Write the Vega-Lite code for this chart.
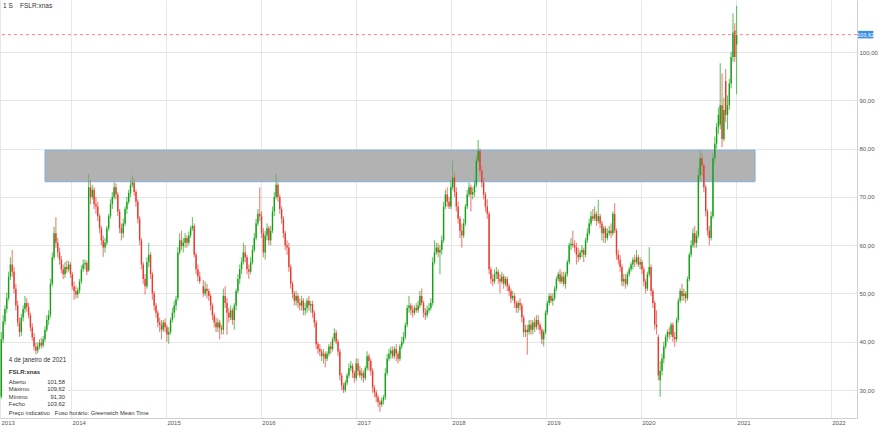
{
"$schema":"https://vega.github.io/schema/vega-lite/v6.json",
"width":857,"height":418,
"autosize":{"type":"none"},
"padding":{"left":0,"top":0,"right":23,"bottom":15},
"background":"white",
"config":{"view":{"stroke":null},
"locale":{"number":{"decimal":",","thousands":".","grouping":[3],"currency":["","€"]}},
"axis":{"labelFont":"Liberation Sans","labelFontSize":6,"labelColor":"#555555","gridColor":"#e6e6e6","gridWidth":1,"domainColor":"#d0d0d0","ticks":false},
"text":{"font":"Liberation Sans"}},
"datasets":{"fslr":[
{"d":"2013-04-08","o":28.6,"h":42,"l":28.2,"c":40.5},
{"d":"2013-04-15","o":40.5,"h":45.5,"l":39.8,"c":44.2},
{"d":"2013-04-22","o":44.2,"h":47.5,"l":43.5,"c":46.8},
{"d":"2013-04-29","o":46.8,"h":50.2,"l":46,"c":49},
{"d":"2013-05-06","o":49,"h":54.5,"l":48.5,"c":53.5},
{"d":"2013-05-13","o":53.5,"h":57.5,"l":52.8,"c":56},
{"d":"2013-05-20","o":56,"h":59,"l":53.5,"c":54.5},
{"d":"2013-05-27","o":54.5,"h":55.5,"l":50,"c":51},
{"d":"2013-06-03","o":51,"h":52,"l":46.5,"c":47.5},
{"d":"2013-06-10","o":47.5,"h":48.5,"l":43.2,"c":44},
{"d":"2013-06-17","o":44,"h":45,"l":41,"c":42},
{"d":"2013-06-24","o":42,"h":45.8,"l":41.2,"c":45},
{"d":"2013-07-01","o":45,"h":47.5,"l":44.2,"c":46.8},
{"d":"2013-07-08","o":46.8,"h":49.5,"l":46,"c":48},
{"d":"2013-07-15","o":48,"h":49,"l":46.2,"c":47.2},
{"d":"2013-07-22","o":47.2,"h":48,"l":44.8,"c":45.5},
{"d":"2013-07-29","o":45.5,"h":46,"l":42.2,"c":43},
{"d":"2013-08-05","o":43,"h":43.8,"l":40.2,"c":41},
{"d":"2013-08-12","o":41,"h":41.8,"l":38.2,"c":39},
{"d":"2013-08-19","o":39,"h":39.8,"l":37.4,"c":38.2},
{"d":"2013-08-26","o":38.2,"h":39.8,"l":37.6,"c":39},
{"d":"2013-09-02","o":39,"h":40.5,"l":38.5,"c":39.8},
{"d":"2013-09-09","o":39.8,"h":40.8,"l":38.6,"c":39.2},
{"d":"2013-09-16","o":39.2,"h":41.2,"l":38.8,"c":40.5},
{"d":"2013-09-23","o":40.5,"h":43.2,"l":40,"c":42.5},
{"d":"2013-09-30","o":42.5,"h":45.5,"l":42,"c":44.5},
{"d":"2013-10-07","o":44.5,"h":46.5,"l":43.5,"c":45.5},
{"d":"2013-10-14","o":45.5,"h":53,"l":45,"c":52},
{"d":"2013-10-21","o":52,"h":58.5,"l":51.5,"c":57.5},
{"d":"2013-10-28","o":57.5,"h":63.8,"l":57,"c":62.5},
{"d":"2013-11-04","o":62.5,"h":65.8,"l":59.5,"c":60.5},
{"d":"2013-11-11","o":60.5,"h":61.5,"l":57.5,"c":58.5},
{"d":"2013-11-18","o":58.5,"h":59.5,"l":56,"c":57},
{"d":"2013-11-25","o":57,"h":57.8,"l":54.2,"c":55},
{"d":"2013-12-02","o":55,"h":56,"l":53,"c":54},
{"d":"2013-12-09","o":54,"h":56.5,"l":53.2,"c":55.5},
{"d":"2013-12-16","o":55.5,"h":56.8,"l":54.2,"c":55},
{"d":"2013-12-23","o":55,"h":56.8,"l":54.5,"c":56},
{"d":"2013-12-30","o":56,"h":56.5,"l":53.2,"c":54},
{"d":"2014-01-06","o":54,"h":54.5,"l":50.8,"c":51.5},
{"d":"2014-01-13","o":51.5,"h":52.5,"l":48.7,"c":50.5},
{"d":"2014-01-20","o":50.5,"h":51.5,"l":49,"c":49.8},
{"d":"2014-01-27","o":49.8,"h":51.2,"l":49,"c":50.6},
{"d":"2014-02-03","o":50.6,"h":53,"l":50,"c":52.5},
{"d":"2014-02-10","o":52.5,"h":55.8,"l":52,"c":55},
{"d":"2014-02-17","o":55,"h":57,"l":54.5,"c":56},
{"d":"2014-02-24","o":56,"h":57,"l":55,"c":56.3},
{"d":"2014-03-03","o":56.3,"h":56.8,"l":53.8,"c":54.5},
{"d":"2014-03-10","o":54.8,"h":74.8,"l":54.5,"c":72},
{"d":"2014-03-17","o":72,"h":73.5,"l":68.5,"c":70},
{"d":"2014-03-24","o":70,"h":72.5,"l":69.5,"c":71.5},
{"d":"2014-03-31","o":71.5,"h":72,"l":67.5,"c":68.5},
{"d":"2014-04-07","o":68.5,"h":70,"l":66.5,"c":68},
{"d":"2014-04-14","o":68,"h":69,"l":65,"c":66},
{"d":"2014-04-21","o":66,"h":66.5,"l":62.5,"c":63.5},
{"d":"2014-04-28","o":63.5,"h":64,"l":60,"c":61},
{"d":"2014-05-05","o":61,"h":62,"l":57.6,"c":59.5},
{"d":"2014-05-12","o":59.5,"h":61.5,"l":58.5,"c":60.5},
{"d":"2014-05-19","o":60.5,"h":64,"l":60,"c":63.5},
{"d":"2014-05-26","o":63.5,"h":66.5,"l":63,"c":66},
{"d":"2014-06-02","o":66,"h":69.5,"l":65.5,"c":68.5},
{"d":"2014-06-09","o":68.5,"h":71,"l":67.5,"c":70},
{"d":"2014-06-16","o":70,"h":73,"l":69.5,"c":72},
{"d":"2014-06-23","o":72,"h":72.8,"l":69.5,"c":70.5},
{"d":"2014-06-30","o":70.5,"h":71,"l":66,"c":67},
{"d":"2014-07-07","o":67,"h":67.5,"l":62.5,"c":63.5},
{"d":"2014-07-14","o":63.5,"h":64.5,"l":61,"c":62.5},
{"d":"2014-07-21","o":62.5,"h":65.5,"l":61.5,"c":64.5},
{"d":"2014-07-28","o":64.5,"h":68,"l":64,"c":67.5},
{"d":"2014-08-04","o":67.5,"h":70,"l":66.5,"c":69},
{"d":"2014-08-11","o":69,"h":71.5,"l":68.5,"c":70.8},
{"d":"2014-08-18","o":70.8,"h":73.5,"l":70,"c":72.5},
{"d":"2014-08-25","o":72.5,"h":74.5,"l":72,"c":73},
{"d":"2014-09-01","o":73,"h":73.8,"l":70.2,"c":71},
{"d":"2014-09-08","o":71,"h":71.5,"l":68,"c":69},
{"d":"2014-09-15","o":69,"h":69.5,"l":64.5,"c":65.5},
{"d":"2014-09-22","o":65.5,"h":66,"l":60,"c":61},
{"d":"2014-09-29","o":61,"h":61.5,"l":55,"c":56},
{"d":"2014-10-06","o":56,"h":56.5,"l":52,"c":53},
{"d":"2014-10-13","o":53,"h":54,"l":49.8,"c":51.5},
{"d":"2014-10-20","o":51.5,"h":57.5,"l":51,"c":56.5},
{"d":"2014-10-27","o":56.5,"h":60.5,"l":55.5,"c":58},
{"d":"2014-11-03","o":58,"h":58.5,"l":53,"c":54},
{"d":"2014-11-10","o":54,"h":54.5,"l":48.7,"c":50},
{"d":"2014-11-17","o":50,"h":50.5,"l":46.5,"c":47.5},
{"d":"2014-11-24","o":47.5,"h":48,"l":45,"c":46},
{"d":"2014-12-01","o":46,"h":46.5,"l":43,"c":44},
{"d":"2014-12-08","o":44,"h":45,"l":42,"c":43.5},
{"d":"2014-12-15","o":43.5,"h":44.5,"l":40.5,"c":42.5},
{"d":"2014-12-22","o":42.5,"h":44.5,"l":42,"c":44},
{"d":"2014-12-29","o":44,"h":44.8,"l":42,"c":43},
{"d":"2015-01-05","o":43,"h":43.5,"l":40,"c":41.5},
{"d":"2015-01-12","o":41.5,"h":43,"l":39.6,"c":42},
{"d":"2015-01-19","o":42,"h":45,"l":41.5,"c":44.5},
{"d":"2015-01-26","o":44.5,"h":47,"l":44,"c":46},
{"d":"2015-02-02","o":46,"h":48.5,"l":45,"c":47.5},
{"d":"2015-02-09","o":47.5,"h":49.5,"l":46.5,"c":48.8},
{"d":"2015-02-16","o":49,"h":59.6,"l":48.5,"c":58.5},
{"d":"2015-02-23","o":58.5,"h":62.5,"l":58,"c":61},
{"d":"2015-03-02","o":61,"h":63,"l":59,"c":59.8},
{"d":"2015-03-09","o":59.8,"h":61.5,"l":58.5,"c":60.5},
{"d":"2015-03-16","o":60.5,"h":62.5,"l":59.5,"c":61.5},
{"d":"2015-03-23","o":61.5,"h":62,"l":59.5,"c":60.5},
{"d":"2015-03-30","o":60.5,"h":62.8,"l":60,"c":62},
{"d":"2015-04-06","o":62,"h":64,"l":61.5,"c":63.5},
{"d":"2015-04-13","o":63.5,"h":65.8,"l":63,"c":64},
{"d":"2015-04-20","o":64,"h":64.5,"l":57.5,"c":58},
{"d":"2015-04-27","o":58,"h":58.5,"l":54,"c":55},
{"d":"2015-05-04","o":55,"h":56,"l":52.5,"c":53.5},
{"d":"2015-05-11","o":53.5,"h":54.5,"l":52,"c":52.5},
{"d":"2015-05-25","o":51.5,"h":52.8,"l":49.3,"c":50},
{"d":"2015-06-01","o":50,"h":52.5,"l":49.5,"c":51},
{"d":"2015-06-08","o":51,"h":52,"l":49,"c":50.5},
{"d":"2015-06-15","o":50.5,"h":51,"l":48.5,"c":49.5},
{"d":"2015-06-22","o":49.5,"h":50,"l":46.5,"c":47.5},
{"d":"2015-06-29","o":47.5,"h":48,"l":44.5,"c":45.5},
{"d":"2015-07-06","o":45.5,"h":46,"l":43,"c":44},
{"d":"2015-07-13","o":44,"h":45,"l":42,"c":43},
{"d":"2015-07-20","o":43,"h":44.8,"l":42,"c":44},
{"d":"2015-07-27","o":44,"h":44.5,"l":40.5,"c":42.8},
{"d":"2015-08-03","o":42.8,"h":43.5,"l":41.5,"c":42.5},
{"d":"2015-08-10","o":42.5,"h":51,"l":41.5,"c":49.5},
{"d":"2015-08-17","o":49.5,"h":51.5,"l":47,"c":48},
{"d":"2015-08-24","o":48,"h":49,"l":41.5,"c":46},
{"d":"2015-08-31","o":46,"h":47,"l":44,"c":45},
{"d":"2015-09-07","o":45,"h":47.5,"l":44.5,"c":46.5},
{"d":"2015-09-14","o":46.5,"h":47,"l":43.5,"c":44.5},
{"d":"2015-09-21","o":44.5,"h":48,"l":42.5,"c":47.5},
{"d":"2015-09-28","o":47.5,"h":51,"l":46.5,"c":50.5},
{"d":"2015-10-05","o":50.5,"h":54,"l":50,"c":53},
{"d":"2015-10-12","o":53,"h":56,"l":52,"c":55},
{"d":"2015-10-19","o":55,"h":57.5,"l":54,"c":56.5},
{"d":"2015-10-26","o":56.5,"h":60.5,"l":56,"c":58.5},
{"d":"2015-11-02","o":58.5,"h":60,"l":56.5,"c":57.5},
{"d":"2015-11-09","o":57.5,"h":58,"l":54,"c":55},
{"d":"2015-11-16","o":55,"h":56,"l":53,"c":54.5},
{"d":"2015-11-23","o":54.5,"h":57.5,"l":54,"c":56.5},
{"d":"2015-11-30","o":56.5,"h":60,"l":56,"c":59},
{"d":"2015-12-07","o":59,"h":62.5,"l":58.5,"c":61.5},
{"d":"2015-12-14","o":61.5,"h":65.5,"l":61,"c":64.5},
{"d":"2015-12-21","o":64.5,"h":67.5,"l":64,"c":66.5},
{"d":"2015-12-28","o":66.5,"h":72,"l":65,"c":66},
{"d":"2016-01-04","o":66,"h":67,"l":61.5,"c":62.5},
{"d":"2016-01-11","o":62.5,"h":63.5,"l":57.5,"c":58.5},
{"d":"2016-01-18","o":58.5,"h":63,"l":57,"c":62},
{"d":"2016-01-25","o":62,"h":64.5,"l":61,"c":63.5},
{"d":"2016-02-01","o":63.5,"h":64,"l":60,"c":61},
{"d":"2016-02-08","o":61,"h":64,"l":60,"c":63},
{"d":"2016-02-15","o":63,"h":68,"l":62.5,"c":67},
{"d":"2016-02-22","o":67,"h":71,"l":66,"c":70},
{"d":"2016-02-29","o":70,"h":74.8,"l":69.5,"c":72.5},
{"d":"2016-03-07","o":72.5,"h":73,"l":69,"c":70},
{"d":"2016-03-14","o":70,"h":70.5,"l":66.5,"c":67.5},
{"d":"2016-03-21","o":67.5,"h":68,"l":64.5,"c":65.5},
{"d":"2016-03-28","o":65.5,"h":66,"l":61.5,"c":62.5},
{"d":"2016-04-04","o":62.5,"h":63,"l":59,"c":60},
{"d":"2016-04-11","o":60,"h":61,"l":58,"c":59.5},
{"d":"2016-04-18","o":59.5,"h":60.5,"l":54.5,"c":55.5},
{"d":"2016-04-25","o":55.5,"h":56,"l":51,"c":52},
{"d":"2016-05-02","o":52,"h":52.5,"l":49,"c":50},
{"d":"2016-05-09","o":50,"h":50.5,"l":47.5,"c":48.5},
{"d":"2016-05-16","o":48.5,"h":50.5,"l":47.5,"c":49.5},
{"d":"2016-05-23","o":49.5,"h":50,"l":47,"c":48},
{"d":"2016-05-30","o":48,"h":49,"l":46.5,"c":47.5},
{"d":"2016-06-06","o":47.5,"h":49.5,"l":46.5,"c":48.5},
{"d":"2016-06-13","o":48.5,"h":49,"l":45.5,"c":46.5},
{"d":"2016-06-20","o":46.5,"h":48,"l":45.5,"c":47},
{"d":"2016-06-27","o":47,"h":49,"l":46,"c":48.5},
{"d":"2016-07-04","o":48.5,"h":49.5,"l":46.5,"c":47.5},
{"d":"2016-07-11","o":47.5,"h":48.5,"l":46,"c":47.8},
{"d":"2016-07-18","o":47.8,"h":48.5,"l":45,"c":46},
{"d":"2016-07-25","o":46,"h":46.5,"l":43,"c":44},
{"d":"2016-08-01","o":44,"h":44.5,"l":38.5,"c":39.5},
{"d":"2016-08-08","o":39.5,"h":40,"l":37.5,"c":38.5},
{"d":"2016-08-15","o":38.5,"h":39.5,"l":37,"c":38},
{"d":"2016-08-22","o":38,"h":38.5,"l":36,"c":37},
{"d":"2016-08-29","o":37,"h":38.5,"l":35.5,"c":37.5},
{"d":"2016-09-05","o":37.5,"h":38,"l":34.7,"c":36.5},
{"d":"2016-09-12","o":36.5,"h":38,"l":36,"c":37.5},
{"d":"2016-09-19","o":37.5,"h":39.5,"l":37,"c":39},
{"d":"2016-09-26","o":39,"h":40,"l":37.5,"c":38.5},
{"d":"2016-10-03","o":38.5,"h":41,"l":38,"c":40.5},
{"d":"2016-10-10","o":40.5,"h":42.8,"l":40,"c":41.8},
{"d":"2016-10-17","o":41.8,"h":42.4,"l":39.5,"c":40},
{"d":"2016-10-24","o":40,"h":40.5,"l":37,"c":38},
{"d":"2016-10-31","o":38,"h":38.5,"l":32,"c":33},
{"d":"2016-11-07","o":33,"h":33.5,"l":30,"c":31},
{"d":"2016-11-14","o":31,"h":31.5,"l":29.4,"c":30},
{"d":"2016-11-21","o":30,"h":32,"l":29.5,"c":31.5},
{"d":"2016-11-28","o":31.5,"h":33.5,"l":31,"c":33},
{"d":"2016-12-05","o":33,"h":35.5,"l":32.5,"c":34.5},
{"d":"2016-12-12","o":34.5,"h":36,"l":34,"c":35},
{"d":"2016-12-19","o":35,"h":35.5,"l":32.5,"c":33.5},
{"d":"2016-12-26","o":33.5,"h":34,"l":31.5,"c":32.5},
{"d":"2017-01-02","o":32.5,"h":36.5,"l":32,"c":35.5},
{"d":"2017-01-09","o":35.5,"h":36.5,"l":33,"c":34},
{"d":"2017-01-16","o":34,"h":35,"l":32.5,"c":33},
{"d":"2017-01-23","o":33,"h":34.5,"l":32,"c":33.5},
{"d":"2017-01-30","o":33.5,"h":34,"l":31.5,"c":32.5},
{"d":"2017-02-06","o":32.5,"h":35,"l":32,"c":34.5},
{"d":"2017-02-13","o":34.5,"h":38,"l":34,"c":37},
{"d":"2017-02-20","o":37,"h":37.5,"l":34,"c":36},
{"d":"2017-02-27","o":36,"h":36.5,"l":33,"c":34},
{"d":"2017-03-06","o":34,"h":34.5,"l":29.4,"c":30.5},
{"d":"2017-03-13","o":30.5,"h":31,"l":28.5,"c":29.5},
{"d":"2017-03-20","o":29.5,"h":30,"l":27.5,"c":28.5},
{"d":"2017-03-27","o":28.5,"h":29,"l":26.5,"c":27.5},
{"d":"2017-04-03","o":27.5,"h":28,"l":25.5,"c":27},
{"d":"2017-04-10","o":27,"h":28.5,"l":26.5,"c":27.8},
{"d":"2017-04-17","o":27.8,"h":29,"l":27,"c":28.5},
{"d":"2017-04-24","o":28.5,"h":34.5,"l":28,"c":33.5},
{"d":"2017-05-01","o":33.5,"h":37.5,"l":33,"c":36.5},
{"d":"2017-05-08","o":36.5,"h":38.5,"l":36,"c":37.5},
{"d":"2017-05-15","o":37.5,"h":39,"l":36.5,"c":38.2},
{"d":"2017-05-22","o":38.2,"h":39,"l":36.5,"c":37},
{"d":"2017-05-29","o":37,"h":39,"l":36.5,"c":38.5},
{"d":"2017-06-05","o":38.5,"h":39.5,"l":36,"c":37.5},
{"d":"2017-06-12","o":37.5,"h":38,"l":35.5,"c":36.5},
{"d":"2017-06-19","o":36.5,"h":39.5,"l":36,"c":39},
{"d":"2017-06-26","o":39,"h":41,"l":38.5,"c":40},
{"d":"2017-07-03","o":40,"h":42,"l":39.5,"c":41},
{"d":"2017-07-10","o":41,"h":44,"l":40.5,"c":43.5},
{"d":"2017-07-17","o":43.5,"h":47.6,"l":43,"c":47},
{"d":"2017-07-24","o":47,"h":49.5,"l":46,"c":47.5},
{"d":"2017-07-31","o":47.5,"h":48,"l":45.5,"c":46.5},
{"d":"2017-08-07","o":46.5,"h":47.5,"l":45,"c":46},
{"d":"2017-08-14","o":46,"h":47.5,"l":45.5,"c":47},
{"d":"2017-08-21","o":47,"h":48,"l":46,"c":46.5},
{"d":"2017-08-28","o":46.5,"h":48.5,"l":46,"c":47.5},
{"d":"2017-09-04","o":47.5,"h":50.5,"l":47,"c":49.5},
{"d":"2017-09-11","o":49.5,"h":51,"l":47.5,"c":48},
{"d":"2017-09-18","o":48,"h":48.5,"l":45,"c":46},
{"d":"2017-09-25","o":46,"h":47,"l":44.5,"c":45.5},
{"d":"2017-10-02","o":45.5,"h":47.5,"l":45,"c":46.5},
{"d":"2017-10-09","o":46.5,"h":48,"l":46,"c":47},
{"d":"2017-10-16","o":47,"h":49,"l":46.5,"c":48},
{"d":"2017-10-23","o":48,"h":57.5,"l":47.5,"c":56.5},
{"d":"2017-10-30","o":56.5,"h":61,"l":56,"c":58.5},
{"d":"2017-11-06","o":58.5,"h":60.5,"l":58,"c":59.5},
{"d":"2017-11-13","o":59.5,"h":60.5,"l":57.5,"c":58.5},
{"d":"2017-11-20","o":58.5,"h":60,"l":54,"c":59},
{"d":"2017-11-27","o":59,"h":62,"l":58,"c":61},
{"d":"2017-12-04","o":61,"h":69,"l":60.5,"c":68},
{"d":"2017-12-11","o":68,"h":71.5,"l":67.5,"c":70.5},
{"d":"2017-12-18","o":70.5,"h":72,"l":68,"c":69},
{"d":"2017-12-25","o":69,"h":70,"l":67.5,"c":68},
{"d":"2018-01-01","o":68,"h":73.5,"l":67.5,"c":72},
{"d":"2018-01-08","o":72,"h":77.5,"l":71.5,"c":74},
{"d":"2018-01-15","o":74,"h":75,"l":70,"c":71},
{"d":"2018-01-22","o":71,"h":72,"l":67,"c":68},
{"d":"2018-01-29","o":68,"h":69,"l":64.5,"c":65.5},
{"d":"2018-02-05","o":65.5,"h":66,"l":61.5,"c":63},
{"d":"2018-02-12","o":63,"h":64.5,"l":59.5,"c":62},
{"d":"2018-02-19","o":62,"h":65.5,"l":61.5,"c":64.5},
{"d":"2018-02-26","o":64.5,"h":68.5,"l":64,"c":68},
{"d":"2018-03-05","o":68,"h":71.5,"l":67.5,"c":70.5},
{"d":"2018-03-12","o":70.5,"h":73,"l":70,"c":72},
{"d":"2018-03-19","o":72,"h":72.5,"l":67,"c":70.5},
{"d":"2018-03-26","o":70.5,"h":72,"l":69.5,"c":71},
{"d":"2018-04-02","o":71,"h":73.5,"l":70,"c":72.5},
{"d":"2018-04-09","o":72.5,"h":78.5,"l":72,"c":77.5},
{"d":"2018-04-16","o":77.5,"h":81.8,"l":77,"c":79.5},
{"d":"2018-04-23","o":79.5,"h":80,"l":74.5,"c":75.5},
{"d":"2018-04-30","o":75.5,"h":76.5,"l":72,"c":73},
{"d":"2018-05-07","o":73,"h":74,"l":69.5,"c":70.5},
{"d":"2018-05-14","o":70.5,"h":71,"l":67,"c":68},
{"d":"2018-05-21","o":68,"h":69.5,"l":65.5,"c":66.5},
{"d":"2018-05-28","o":66.5,"h":67,"l":54,"c":55},
{"d":"2018-06-04","o":55,"h":55.5,"l":52,"c":53},
{"d":"2018-06-11","o":53,"h":54,"l":51.5,"c":52.5},
{"d":"2018-06-18","o":52.5,"h":55,"l":52,"c":54},
{"d":"2018-06-25","o":54,"h":55.5,"l":53,"c":54.5},
{"d":"2018-07-02","o":54.5,"h":55,"l":52,"c":53},
{"d":"2018-07-09","o":53,"h":54,"l":50,"c":52.5},
{"d":"2018-07-16","o":52.5,"h":54.5,"l":52,"c":53.5},
{"d":"2018-07-23","o":53.5,"h":54,"l":51,"c":52},
{"d":"2018-07-30","o":52,"h":53.5,"l":51.5,"c":53},
{"d":"2018-08-06","o":53,"h":53.5,"l":50.5,"c":51.5},
{"d":"2018-08-13","o":51.5,"h":52,"l":49.5,"c":50.5},
{"d":"2018-08-20","o":50.5,"h":51,"l":48,"c":49},
{"d":"2018-08-27","o":49,"h":50.5,"l":48.5,"c":49.5},
{"d":"2018-09-03","o":49.5,"h":50,"l":47,"c":48},
{"d":"2018-09-10","o":48,"h":48.5,"l":46,"c":47},
{"d":"2018-09-17","o":47,"h":48.5,"l":46,"c":48},
{"d":"2018-09-24","o":48,"h":49,"l":46.5,"c":47.5},
{"d":"2018-10-01","o":47.5,"h":48,"l":44,"c":45},
{"d":"2018-10-08","o":45,"h":45.5,"l":41,"c":42},
{"d":"2018-10-15","o":42,"h":43.5,"l":41,"c":42.5},
{"d":"2018-10-22","o":42.5,"h":43.5,"l":37.3,"c":42},
{"d":"2018-10-29","o":42,"h":44.5,"l":41.5,"c":43.5},
{"d":"2018-11-05","o":43.5,"h":44.5,"l":41.5,"c":42.5},
{"d":"2018-11-12","o":42.5,"h":44.5,"l":41.5,"c":44},
{"d":"2018-11-19","o":44,"h":45,"l":42,"c":43},
{"d":"2018-11-26","o":43,"h":45.5,"l":42.5,"c":44.5},
{"d":"2018-12-03","o":44.5,"h":45.5,"l":42.5,"c":43.5},
{"d":"2018-12-10","o":43.5,"h":44,"l":41.5,"c":42.5},
{"d":"2018-12-17","o":42.5,"h":43,"l":39.5,"c":40.5},
{"d":"2018-12-24","o":40.5,"h":42.5,"l":39,"c":42},
{"d":"2018-12-31","o":42,"h":46.5,"l":41.5,"c":46},
{"d":"2019-01-07","o":46,"h":48.5,"l":45.5,"c":48},
{"d":"2019-01-14","o":48,"h":50,"l":47.5,"c":49.5},
{"d":"2019-01-21","o":49.5,"h":50,"l":48,"c":48.5},
{"d":"2019-01-28","o":48.5,"h":50,"l":47.5,"c":49},
{"d":"2019-02-04","o":49,"h":51.5,"l":48.5,"c":51},
{"d":"2019-02-11","o":51,"h":53.5,"l":50.5,"c":53},
{"d":"2019-02-18","o":53,"h":54.5,"l":52.5,"c":54},
{"d":"2019-02-25","o":54,"h":55,"l":52,"c":52.5},
{"d":"2019-03-04","o":52.5,"h":54.5,"l":52,"c":53.5},
{"d":"2019-03-11","o":53.5,"h":54.5,"l":51.5,"c":52},
{"d":"2019-03-18","o":52,"h":54.5,"l":51,"c":54},
{"d":"2019-03-25","o":54,"h":57,"l":53.5,"c":56.5},
{"d":"2019-04-01","o":56.5,"h":60.5,"l":56,"c":60},
{"d":"2019-04-08","o":60,"h":61.5,"l":59,"c":60.3},
{"d":"2019-04-15","o":60.3,"h":63,"l":59.5,"c":60},
{"d":"2019-04-22","o":60,"h":61,"l":58.5,"c":59.5},
{"d":"2019-04-29","o":59.5,"h":60.5,"l":56,"c":58},
{"d":"2019-05-06","o":58,"h":59.5,"l":56.5,"c":57.5},
{"d":"2019-05-13","o":57.5,"h":59,"l":57,"c":58.5},
{"d":"2019-05-20","o":58.5,"h":60,"l":57.5,"c":59},
{"d":"2019-05-27","o":59,"h":59.5,"l":56.5,"c":58},
{"d":"2019-06-03","o":58,"h":61.5,"l":57.5,"c":61},
{"d":"2019-06-10","o":61,"h":63.5,"l":60.5,"c":62.5},
{"d":"2019-06-17","o":62.5,"h":65.5,"l":62,"c":64.5},
{"d":"2019-06-24","o":64.5,"h":67,"l":64,"c":66},
{"d":"2019-07-01","o":66,"h":67.5,"l":65,"c":65.5},
{"d":"2019-07-08","o":65.5,"h":68,"l":65,"c":66.5},
{"d":"2019-07-15","o":66.5,"h":67,"l":64,"c":65},
{"d":"2019-07-22","o":65,"h":69.4,"l":64.5,"c":66},
{"d":"2019-07-29","o":66,"h":66.5,"l":63.5,"c":64.5},
{"d":"2019-08-05","o":64.5,"h":65,"l":61,"c":62.5},
{"d":"2019-08-12","o":62.5,"h":64,"l":60.5,"c":63.5},
{"d":"2019-08-19","o":63.5,"h":64,"l":60.5,"c":61.5},
{"d":"2019-08-26","o":61.5,"h":63.5,"l":61,"c":62.5},
{"d":"2019-09-02","o":62.5,"h":64,"l":62,"c":63},
{"d":"2019-09-09","o":63,"h":64.5,"l":61.5,"c":62.5},
{"d":"2019-09-16","o":62.5,"h":67,"l":62,"c":66.5},
{"d":"2019-09-23","o":66.5,"h":68.7,"l":62.5,"c":63},
{"d":"2019-09-30","o":63,"h":63.5,"l":57,"c":58},
{"d":"2019-10-07","o":58,"h":59,"l":56,"c":57},
{"d":"2019-10-14","o":57,"h":58,"l":54.5,"c":55.5},
{"d":"2019-10-21","o":55.5,"h":56,"l":51.5,"c":52.5},
{"d":"2019-10-28","o":52.5,"h":54,"l":51.5,"c":53},
{"d":"2019-11-04","o":53,"h":54,"l":51,"c":52},
{"d":"2019-11-11","o":52,"h":54.5,"l":51.5,"c":54},
{"d":"2019-11-18","o":54,"h":55.5,"l":53.5,"c":55},
{"d":"2019-11-25","o":55,"h":56.5,"l":54.5,"c":56},
{"d":"2019-12-02","o":56,"h":57.5,"l":55,"c":57},
{"d":"2019-12-09","o":57,"h":58,"l":55.5,"c":56.5},
{"d":"2019-12-16","o":56.5,"h":59,"l":56,"c":57.5},
{"d":"2019-12-23","o":57.5,"h":58,"l":55.5,"c":56},
{"d":"2019-12-30","o":56,"h":57.5,"l":55,"c":56.5},
{"d":"2020-01-06","o":56.5,"h":57,"l":54,"c":55},
{"d":"2020-01-13","o":55,"h":55.5,"l":51.5,"c":52.5},
{"d":"2020-01-20","o":52.5,"h":53,"l":50,"c":51},
{"d":"2020-01-27","o":51,"h":54.5,"l":50.5,"c":54},
{"d":"2020-02-03","o":54,"h":59.6,"l":53.5,"c":55.5},
{"d":"2020-02-10","o":55.5,"h":56,"l":49.5,"c":50.5},
{"d":"2020-02-17","o":50.5,"h":51,"l":47,"c":48},
{"d":"2020-02-24","o":48,"h":48.5,"l":42.5,"c":43.5},
{"d":"2020-03-02","o":43.5,"h":46.5,"l":41.5,"c":43},
{"d":"2020-03-09","o":41,"h":41.5,"l":32,"c":33},
{"d":"2020-03-16","o":32,"h":36,"l":28.6,"c":34},
{"d":"2020-03-23","o":34,"h":37.5,"l":33,"c":36.5},
{"d":"2020-03-30","o":36.5,"h":40,"l":35.5,"c":39},
{"d":"2020-04-06","o":39,"h":41.5,"l":38.5,"c":41},
{"d":"2020-04-13","o":41,"h":42.5,"l":40,"c":42},
{"d":"2020-04-20","o":42,"h":43,"l":40.5,"c":41.5},
{"d":"2020-04-27","o":41.5,"h":44,"l":41,"c":43.5},
{"d":"2020-05-04","o":43.5,"h":44,"l":40,"c":41},
{"d":"2020-05-11","o":41,"h":42,"l":39,"c":40.5},
{"d":"2020-05-18","o":40.5,"h":45,"l":40,"c":44.5},
{"d":"2020-05-25","o":44.5,"h":49,"l":44,"c":48.5},
{"d":"2020-06-01","o":48.5,"h":51,"l":48,"c":50.5},
{"d":"2020-06-08","o":50.5,"h":52,"l":48.5,"c":49.5},
{"d":"2020-06-15","o":49.5,"h":51,"l":48.5,"c":50},
{"d":"2020-06-22","o":50,"h":50.5,"l":48,"c":49},
{"d":"2020-06-29","o":49,"h":53.5,"l":48.5,"c":53},
{"d":"2020-07-06","o":53,"h":58.5,"l":52.5,"c":58},
{"d":"2020-07-13","o":58,"h":61,"l":57.5,"c":60},
{"d":"2020-07-20","o":60,"h":63.5,"l":59.5,"c":62.5},
{"d":"2020-07-27","o":62.5,"h":64,"l":59.5,"c":60.5},
{"d":"2020-08-03","o":60.5,"h":63,"l":59.5,"c":62},
{"d":"2020-08-10","o":62,"h":76,"l":61.5,"c":74.5},
{"d":"2020-08-17","o":74.5,"h":79.7,"l":73.5,"c":78},
{"d":"2020-08-24","o":78,"h":79,"l":74.5,"c":76.5},
{"d":"2020-08-31","o":76.5,"h":77,"l":71,"c":72},
{"d":"2020-09-07","o":72,"h":72.5,"l":66,"c":67},
{"d":"2020-09-14","o":67,"h":67.5,"l":62,"c":63},
{"d":"2020-09-21","o":63,"h":64,"l":60,"c":61.5},
{"d":"2020-09-28","o":61.5,"h":67,"l":61,"c":66},
{"d":"2020-10-05","o":66,"h":79,"l":65.5,"c":78},
{"d":"2020-10-12","o":78,"h":82.5,"l":77,"c":81},
{"d":"2020-10-19","o":81,"h":85.3,"l":80,"c":84.5},
{"d":"2020-10-26","o":84.5,"h":88.5,"l":83,"c":87},
{"d":"2020-11-02","o":85,"h":97.7,"l":84,"c":89},
{"d":"2020-11-09","o":89,"h":95.6,"l":80.3,"c":82},
{"d":"2020-11-16","o":82,"h":90.5,"l":81.5,"c":88},
{"d":"2020-11-23","o":94,"h":96.5,"l":85.5,"c":87},
{"d":"2020-11-30","o":87,"h":91,"l":84,"c":89},
{"d":"2020-12-07","o":89,"h":94.5,"l":88,"c":93.5},
{"d":"2020-12-14","o":93.5,"h":100,"l":92.5,"c":99},
{"d":"2020-12-21","o":99,"h":108,"l":98,"c":104},
{"d":"2020-12-28","o":104.5,"h":106,"l":98,"c":99},
{"d":"2021-01-04","o":101.58,"h":109.62,"l":91.3,"c":103.62}
]},
"layer":[
{"data":{"name":"fslr"},"mark":{"type":"rule","strokeWidth":0.9,"opacity":0.45},
 "encoding":{"x":{"field":"d","type":"temporal","scale":{"domain":[{"year":2013,"month":4,"date":3},{"year":2022,"month":4,"date":12}]},
   "axis":{"orient":"bottom","title":null,"values":[{"year":2013,"month":4,"date":3},{"year":2014,"month":1,"date":1},{"year":2015,"month":1,"date":1},{"year":2016,"month":1,"date":1},{"year":2017,"month":1,"date":1},{"year":2018,"month":1,"date":1},{"year":2019,"month":1,"date":1},{"year":2020,"month":1,"date":1},{"year":2021,"month":1,"date":1},{"year":2022,"month":1,"date":1}],"format":"%Y","labelAlign":"left","labelBaseline":"top","labelPadding":1,"labelOffset":1,"grid":true,"labelOverlap":false,"labelFlush":false}},
  "y":{"field":"l","type":"quantitative","scale":{"domain":[24.2,110.8],"nice":false,"zero":false},
   "axis":{"orient":"right","title":null,"values":[30,40,50,60,70,80,90,100],"format":".2f","labelPadding":2,"grid":true,"labelBaseline":"middle"}},
  "y2":{"field":"h"},
  "color":{"condition":{"test":"datum.c >= datum.o","value":"#15a315"},"value":"#ea3a2f"}}},
{"data":{"values":[{}]},"mark":{"type":"rect","fill":"#b2b2b2","stroke":"#7fb2e5","strokeWidth":1},
 "encoding":{"x":{"datum":{"year":2013,"month":9,"date":23},"type":"temporal"},
 "x2":{"datum":{"year":2021,"month":3,"date":16}},
 "y":{"datum":79.7,"type":"quantitative"},"y2":{"datum":73.15}}},
{"data":{"name":"fslr"},"mark":{"type":"rule","strokeWidth":0.9,"opacity":0.45},
 "encoding":{"x":{"field":"d","type":"temporal"},
  "y":{"field":"l","type":"quantitative"},"y2":{"field":"h"},
  "color":{"condition":{"test":"datum.c >= datum.o","value":"#15a315"},"value":"#ea3a2f"}}},
{"data":{"name":"fslr"},"mark":{"type":"rule","strokeWidth":1.4,"strokeCap":"butt"},
 "encoding":{"x":{"field":"d","type":"temporal"},
  "y":{"field":"o","type":"quantitative"},"y2":{"field":"c"},
  "color":{"condition":{"test":"datum.c >= datum.o","value":"#15a315"},"value":"#ea3a2f"}}},
{"data":{"values":[{}]},"mark":{"type":"rect","fill":"white","opacity":0.92},
 "encoding":{"x":{"datum":{"year":2013,"month":4,"date":22},"type":"temporal"},"x2":{"datum":{"year":2013,"month":12,"date":20}},
 "y":{"datum":37.2,"type":"quantitative"},"y2":{"datum":24.5}}},
{"data":{"values":[{}]},"mark":{"type":"rule","stroke":"#f0877d","strokeDash":[3,3],"strokeWidth":1},
 "encoding":{"y":{"datum":103.62,"type":"quantitative"}}},
{"data":{"values":[{}]},"mark":{"type":"rect","fill":"#3c8fe0"},
 "encoding":{"x":{"datum":{"year":2022,"month":4,"date":16},"type":"temporal"},"x2":{"datum":{"year":2022,"month":6,"date":14}},
 "y":{"datum":104.4,"type":"quantitative"},"y2":{"datum":102.85}}},
{"data":{"values":[{}]},"mark":{"type":"text","text":"103,62","align":"center","baseline":"middle","fontSize":5.5,"color":"white"},
 "encoding":{"x":{"datum":{"year":2022,"month":5,"date":15},"type":"temporal"},"y":{"datum":103.62,"type":"quantitative"}}},
{"data":{"values":[{}]},"mark":{"type":"text","text":"1 S","align":"left","baseline":"middle","fontSize":6.5,"color":"#333333"},
 "encoding":{"x":{"datum":{"year":2013,"month":4,"date":15},"type":"temporal"},"y":{"datum":109.5,"type":"quantitative"}}},
{"data":{"values":[{}]},"mark":{"type":"text","text":"FSLR:xnas","align":"left","baseline":"middle","fontSize":6.5,"color":"#333333"},
 "encoding":{"x":{"datum":{"year":2013,"month":6,"date":19},"type":"temporal"},"y":{"datum":109.5,"type":"quantitative"}}},
{"data":{"values":[{}]},"mark":{"type":"text","text":"4 de janeiro de 2021","align":"left","baseline":"middle","fontSize":6.3,"color":"#333333"},
 "encoding":{"x":{"datum":{"year":2013,"month":5,"date":7},"type":"temporal"},"y":{"datum":36.2,"type":"quantitative"}}},
{"data":{"values":[{}]},"mark":{"type":"text","text":"FSLR:xnas","align":"left","baseline":"middle","fontSize":6,"fontWeight":"bold","color":"#333333"},
 "encoding":{"x":{"datum":{"year":2013,"month":5,"date":7},"type":"temporal"},"y":{"datum":33.75,"type":"quantitative"}}},
{"data":{"values":[{}]},"mark":{"type":"text","text":"Aberto","align":"left","baseline":"middle","fontSize":5.8,"color":"#333333"},
 "encoding":{"x":{"datum":{"year":2013,"month":5,"date":7},"type":"temporal"},"y":{"datum":31.74,"type":"quantitative"}}},
{"data":{"values":[{}]},"mark":{"type":"text","text":"101,58","align":"right","baseline":"middle","fontSize":5.8,"color":"#333333"},
 "encoding":{"x":{"datum":{"year":2013,"month":12,"date":9},"type":"temporal"},"y":{"datum":31.74,"type":"quantitative"}}},
{"data":{"values":[{}]},"mark":{"type":"text","text":"Máximo","align":"left","baseline":"middle","fontSize":5.8,"color":"#333333"},
 "encoding":{"x":{"datum":{"year":2013,"month":5,"date":7},"type":"temporal"},"y":{"datum":30.17,"type":"quantitative"}}},
{"data":{"values":[{}]},"mark":{"type":"text","text":"109,62","align":"right","baseline":"middle","fontSize":5.8,"color":"#333333"},
 "encoding":{"x":{"datum":{"year":2013,"month":12,"date":9},"type":"temporal"},"y":{"datum":30.17,"type":"quantitative"}}},
{"data":{"values":[{}]},"mark":{"type":"text","text":"Mínimo","align":"left","baseline":"middle","fontSize":5.8,"color":"#333333"},
 "encoding":{"x":{"datum":{"year":2013,"month":5,"date":7},"type":"temporal"},"y":{"datum":28.51,"type":"quantitative"}}},
{"data":{"values":[{}]},"mark":{"type":"text","text":"91,30","align":"right","baseline":"middle","fontSize":5.8,"color":"#333333"},
 "encoding":{"x":{"datum":{"year":2013,"month":12,"date":9},"type":"temporal"},"y":{"datum":28.51,"type":"quantitative"}}},
{"data":{"values":[{}]},"mark":{"type":"text","text":"Fecho","align":"left","baseline":"middle","fontSize":5.8,"color":"#333333"},
 "encoding":{"x":{"datum":{"year":2013,"month":5,"date":7},"type":"temporal"},"y":{"datum":27.06,"type":"quantitative"}}},
{"data":{"values":[{}]},"mark":{"type":"text","text":"103,62","align":"right","baseline":"middle","fontSize":5.8,"color":"#333333"},
 "encoding":{"x":{"datum":{"year":2013,"month":12,"date":9},"type":"temporal"},"y":{"datum":27.06,"type":"quantitative"}}},
{"data":{"values":[{}]},"mark":{"type":"text","text":"Preço indicativo","align":"left","baseline":"middle","fontSize":5.8,"color":"#333333"},
 "encoding":{"x":{"datum":{"year":2013,"month":5,"date":7},"type":"temporal"},"y":{"datum":25.2,"type":"quantitative"}}},
{"data":{"values":[{}]},"mark":{"type":"text","text":"Fuso horário: Greenwich Mean Time","align":"left","baseline":"middle","fontSize":5.8,"color":"#333333"},
 "encoding":{"x":{"datum":{"year":2013,"month":10,"date":31},"type":"temporal"},"y":{"datum":25.2,"type":"quantitative"}}}
]
}
